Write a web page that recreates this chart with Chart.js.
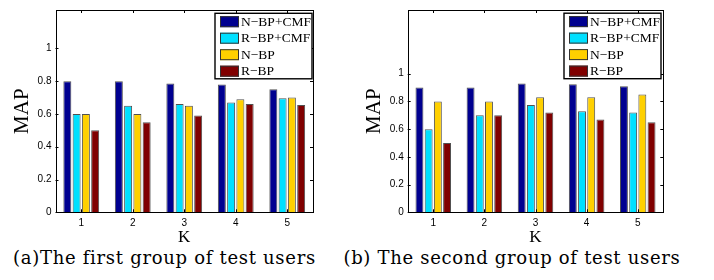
<!DOCTYPE html>
<html>
<head>
<meta charset="utf-8">
<script src="https://cdn.jsdelivr.net/npm/chart.js@4.4.1/dist/chart.umd.min.js"></script>
<style>
  html, body { margin: 0; padding: 0; background: #fff; }
  #wrap { position: relative; width: 714px; height: 280px; overflow: hidden; background: #fff; }
  canvas { position: absolute; top: 0; }
  .cap { position: absolute; top: 249px; height: 30px; line-height: 18px; font-family: "DejaVu Serif", serif;
         font-size: 18px; letter-spacing: 0.7px; white-space: nowrap; text-align: center; color: #000; }
</style>
</head>
<body>
<div id="wrap">
  <canvas id="c1" width="357" height="246" style="left:0px"></canvas>
  <canvas id="c2" width="357" height="246" style="left:357px"></canvas>
  <div class="cap" style="left:0px;width:329px">(a)The first group of test users</div>
  <div class="cap" style="left:312px;width:400px">(b) The second group of test users</div>
</div>
<script>
// ---- data ----
const categories = ['1', '2', '3', '4', '5'];
const seriesNames = ['N\u2212BP+CMF', 'R\u2212BP+CMF', 'N\u2212BP', 'R\u2212BP'];
const seriesColors = ['#000090', '#00E0FF', '#FFD000', '#800000'];

// (a) first group
const a_NBPCMF = [0.80, 0.80, 0.785, 0.78, 0.75];
const a_RBPCMF = [0.60, 0.65, 0.66, 0.67, 0.695];
const a_NBP    = [0.60, 0.60, 0.65, 0.69, 0.70];
const a_RBP    = [0.50, 0.55, 0.59, 0.66, 0.655];

// (b) second group
const b_NBPCMF = [0.90, 0.90, 0.93, 0.925, 0.91];
const b_RBPCMF = [0.60, 0.70, 0.775, 0.73, 0.72];
const b_NBP    = [0.80, 0.80, 0.83, 0.83, 0.85];
const b_RBP    = [0.50, 0.70, 0.72, 0.67, 0.65];

const yTicks = [0, 0.2, 0.4, 0.6, 0.8, 1];
const yTickLabels = ['0', '0.2', '0.4', '0.6', '0.8', '1'];

// ---- plugins ----
const boxAxes = {
  id: 'boxAxes',
  afterDatasetsDraw(chart) {
    const { ctx, chartArea: ca } = chart;
    const xs = chart.scales.x, ys = chart.scales.y;
    ctx.save();
    ctx.strokeStyle = '#000';
    ctx.lineWidth = 1;
    ctx.beginPath();
    const tl = 3;
    for (let i = 0; i < categories.length; i++) {
      const px = Math.round(xs.getPixelForTick(i)) + 0.5;
      ctx.moveTo(px, ca.bottom); ctx.lineTo(px, ca.bottom - tl);
      ctx.moveTo(px, ca.top); ctx.lineTo(px, ca.top + tl);
    }
    yTicks.forEach(v => {
      const py = Math.round(ys.getPixelForValue(v)) + 0.5;
      ctx.moveTo(ca.left, py); ctx.lineTo(ca.left + tl, py);
      ctx.moveTo(ca.right, py); ctx.lineTo(ca.right - tl, py);
    });
    ctx.stroke();
    ctx.strokeRect(Math.round(ca.left) + 0.5, Math.round(ca.top) + 0.5,
                   Math.round(ca.right) - Math.round(ca.left), Math.round(ca.bottom) - Math.round(ca.top));
    ctx.restore();
  }
};

const boxLegend = {
  id: 'boxLegend',
  afterDatasetsDraw(chart, args, o) {
    const { ctx, chartArea: ca } = chart;
    const x0 = ca.right - o.right - o.width, y0 = ca.top + o.top;
    ctx.save();
    ctx.fillStyle = '#fff';
    ctx.fillRect(x0, y0, o.width, o.height);
    ctx.strokeStyle = '#000';
    ctx.lineWidth = 1.4;
    ctx.strokeRect(x0, y0, o.width, o.height);
    ctx.font = '13.5px "Liberation Serif", "Times New Roman", serif';
    ctx.textBaseline = 'middle';
    ctx.textAlign = 'left';
    chart.data.datasets.forEach((ds, i) => {
      const cy = y0 + o.rowTop + i * o.rowGap;
      ctx.fillStyle = ds.backgroundColor;
      ctx.fillRect(x0 + 5, cy - 5.5, 19, 11);
      ctx.strokeStyle = '#333';
      ctx.lineWidth = 1;
      ctx.strokeRect(x0 + 5.5, cy - 5, 18, 10);
      ctx.fillStyle = '#000';
      ctx.fillText(ds.label, x0 + 26, cy + 0.5);
    });
    ctx.restore();
  }
};

function makeChart(id, series, yMax, opts) {
  const datasets = series.map((vals, i) => ({
    label: seriesNames[i],
    data: vals,
    backgroundColor: seriesColors[i],
    borderColor: 'rgba(50,50,50,0.85)',
    borderWidth: 1,
    categoryPercentage: 0.72,
    barPercentage: 0.86
  }));
  return new Chart(document.getElementById(id), {
    type: 'bar',
    data: { labels: categories, datasets },
    options: {
      responsive: false,
      animation: false,
      devicePixelRatio: 1,
      layout: { padding: { top: opts.top, left: 0, right: opts.right, bottom: 0 } },
      plugins: {
        legend: { display: false },
        tooltip: { enabled: false },
        boxLegend: { width: 97, height: 65.5, right: opts.legRight, top: opts.legTop, rowTop: 8.4, rowGap: 16.5 }
      },
      scales: {
        x: {
          afterFit: s => { s.height = opts.xh; },
          grid: { display: false, drawTicks: false },
          border: { display: false },
          ticks: { padding: 5, color: '#000', font: { family: '"Liberation Sans", Arial, sans-serif', size: 10 } },
          title: { display: true, text: 'K', color: '#000',
                   font: { family: '"Liberation Serif", "Times New Roman", serif', size: 17, lineHeight: 1 },
                   padding: { top: 0, bottom: 0 } }
        },
        y: {
          min: 0, max: yMax,
          afterBuildTicks: s => { s.ticks = yTicks.map(v => ({ value: v })); },
          afterFit: s => { s.width = opts.yw; },
          grid: { display: false, drawTicks: false },
          border: { display: false },
          ticks: { padding: 4, color: '#000', font: { family: '"Liberation Sans", Arial, sans-serif', size: 10 },
                   callback: (v, i) => yTickLabels[i] },
          title: { display: true, text: 'MAP', color: '#000',
                   font: { family: '"Liberation Serif", "Times New Roman", serif', size: 21, lineHeight: 1.2 },
                   padding: { top: opts.titlePad, bottom: 0 } }
        }
      }
    },
    plugins: [boxAxes, boxLegend]
  });
}

makeChart('c1', [a_NBPCMF, a_RBPCMF, a_NBP, a_RBP], 1.234,
  { top: 4, right: 44, yw: 55.5, xh: 33.7, titlePad: 9.6, legRight: 1, legTop: 3.3 });
makeChart('c2', [b_NBPCMF, b_RBPCMF, b_NBP, b_RBP], 1.46,
  { top: 3.5, right: 50.7, yw: 50.7, xh: 33.7, titlePad: 4.6, legRight: 2.3, legTop: 3.2 });
</script>
</body>
</html>
